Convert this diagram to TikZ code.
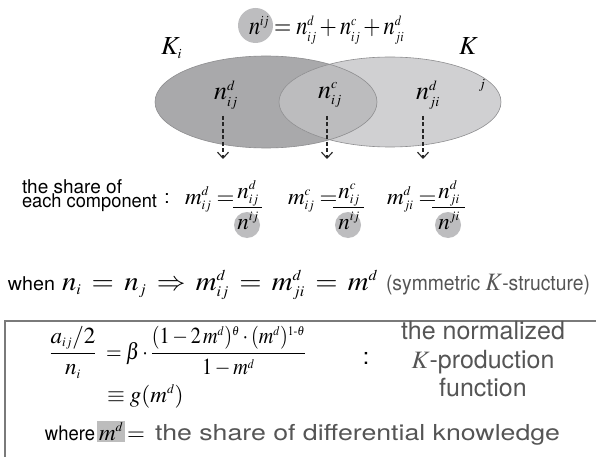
\documentclass[tikz,border=0pt]{standalone}
\usepackage{amsmath}
\usepackage{mathptmx}
\usepackage{graphicx}
\usepackage[no-math]{fontspec}
\setmainfont{TeX Gyre Heros}
\usetikzlibrary{shapes.geometric,arrows.meta}
\DeclareMathSizes{28}{28}{15}{11}
\DeclareMathSizes{27}{27}{15}{11}
\DeclareMathSizes{26}{26}{14}{10}
\DeclareMathSizes{25}{25}{14}{10}
\DeclareMathSizes{24}{24}{13}{9}
\DeclareMathSizes{23}{23}{13}{9}
\DeclareMathSizes{22}{22}{12}{9}
\definecolor{lgray}{HTML}{A9A9AB}
\definecolor{rgray}{HTML}{D0D0D2}
\definecolor{ogray}{HTML}{BCBCBE}
\definecolor{egray}{HTML}{8E8E90}
\definecolor{cgray}{HTML}{BDBDBF}
\definecolor{hgray}{HTML}{BDBDBD}
\definecolor{txtgray}{HTML}{555555}
\definecolor{boxgray}{HTML}{7A7A7A}
\newcommand{\fsz}[1]{\fontsize{#1}{#1}\selectfont}
\newcommand{\fitw}[2]{\resizebox{#1}{\height}{#2}}
\newcommand{\hy}{\mathchar"002D}
\tikzset{
  lab/.style={inner sep=0pt, outer sep=0pt},
  dasharrow/.style={draw=black!85, line width=1.1pt, dash pattern=on 4pt off 2.5pt,
    -{Straight Barb[length=6pt,width=11pt]}},
  shadecircle/.style={circle, fill=cgray, inner sep=0pt},
  boxline/.style={draw=boxgray, line width=1.5pt},
}
\begin{document}
\begin{tikzpicture}[x=1pt,y=-1pt]
\useasboundingbox (0,0) rectangle (596,457);
\fill[white] (0,0) rectangle (596,457);

% top equation
\node[shadecircle, minimum size=35pt] (cij) at (255.5,25.5) {};
\node[lab, anchor=base west] (topeq) at (249,35) {\fitw{155pt}{\fsz{26}$n^{ij} = n_{ij}^{d} + n_{ij}^{c} + n_{ji}^{d}$}};

% ellipses
\node[ellipse, fill=lgray, minimum width=222pt, minimum height=92pt] (Ki) at (266,102) {};
\node[ellipse, fill=rgray, minimum width=222pt, minimum height=90pt] (Kj) at (390,102) {};
\begin{scope}
  \clip (266,102) ellipse [x radius=111pt, y radius=46pt];
  \fill[ogray] (390,102) ellipse [x radius=111pt, y radius=45pt];
\end{scope}
\draw[egray, line width=0.6pt] (266,102) ellipse [x radius=111pt, y radius=46pt];
\draw[egray, line width=0.6pt] (390,102) ellipse [x radius=111pt, y radius=45pt];

\node[lab, anchor=base west] (Kilab) at (161,55) {\fsz{26}$K_{i}$};
\node[lab, anchor=base west] (Kjlab) at (459,55) {\fsz{26}$K$};
\node[lab] (jlab) at (482,85) {\fsz{26}$\scriptstyle j$};

\node[lab] (nd1) at (226,95) {\fsz{26}$n_{ij}^{d}$};
\node[lab] (nc) at (330,95) {\fsz{26}$n_{ij}^{c}$};
\node[lab] (nd2) at (428,95) {\fsz{26}$n_{ji}^{d}$};

\coordinate (a1) at (223,116); \coordinate (b1) at (223,159);
\coordinate (a2) at (327,116); \coordinate (b2) at (327,159);
\coordinate (a3) at (423,116); \coordinate (b3) at (423,159);
\draw[dasharrow] (a1) -- (b1);
\draw[dasharrow] (a2) -- (b2);
\draw[dasharrow] (a3) -- (b3);

% share row
\node[lab, anchor=base west] (share1) at (22,193) {\fsz{19}the share of};
\node[lab, anchor=base west] (share2) at (22,207) {\fitw{135pt}{\fsz{19}each component}};
\node[lab] (col1) at (167,199) {\fsz{19}:};

\node[lab, anchor=base west] (m1) at (185,204) {\fsz{23}$m_{ij}^{d} =$};
\node[lab, anchor=base] (nu1) at (248,198) {\fsz{23}$n_{ij}^{d}$};
\draw[line width=0.8pt] (233,207.5) -- (262,207.5);
\node[shadecircle, minimum size=26pt] (c1) at (247,225) {};
\node[lab, anchor=base] (dn1) at (248,229) {\fsz{23}$n^{ij}$};

\node[lab, anchor=base west] (m2) at (288,204) {\fsz{23}$m_{ij}^{c} =$};
\node[lab, anchor=base] (nu2) at (349,198) {\fsz{23}$n_{ij}^{c}$};
\draw[line width=0.8pt] (333,207.5) -- (364,207.5);
\node[shadecircle, minimum size=26pt] (c2) at (348,225) {};
\node[lab, anchor=base] (dn2) at (349,229) {\fsz{23}$n^{ij}$};

\node[lab, anchor=base west] (m3) at (387,204) {\fsz{23}$m_{ji}^{d} =$};
\node[lab, anchor=base] (nu3) at (449,198) {\fsz{23}$n_{ji}^{d}$};
\draw[line width=0.8pt] (432,207.5) -- (465,207.5);
\node[shadecircle, minimum size=26pt] (c3) at (448,225) {};
\node[lab, anchor=base] (dn3) at (449,229) {\fsz{23}$n^{ji}$};

% when row
\node[lab, anchor=base west] (when) at (8,290) {\fitw{47pt}{\fsz{19}when}};
\node[lab, anchor=base west] (whenm) at (62,290) {\fitw{316pt}{\fsz{27}\thickmuskip=6.5mu$n_i = n_j \Rightarrow m_{ij}^{d} = m_{ji}^{d} = m^{d}$}};
\node[lab, anchor=base west, text=txtgray] (symm) at (386,290) {\fitw{204pt}{\fsz{21}(symmetric {\fsz{25}$K$}-structure)}};

% box
\draw[boxline] (5,457) -- (5,321) -- (596,321);

% formula
\node[lab, anchor=base] (lhs) at (73,359) {\fsz{23}$\displaystyle\frac{a_{ij}/2}{n_i}$};
\node[lab, anchor=base west] (rhs) at (106,359) {\fitw{200pt}{\fsz{23}$\displaystyle=\beta\cdot\frac{(1-2\,m^{d})^{\theta}\cdot(m^{d})^{1\hy\theta}}{1-m^{d}}$}};
\node[lab, anchor=base west] (gm) at (107,402) {\fsz{23}$\equiv g(m^{d})$};
\node[lab] (col2) at (366,358) {\fsz{23}:};
\node[lab, anchor=base, text=txtgray] (nkp1) at (483,339) {\fsz{25}the normalized};
\node[lab, anchor=base, text=txtgray] (nkp2) at (483,368) {\fsz{25}{\fsz{25}$K$}-production};
\node[lab, anchor=base, text=txtgray] (nkp3) at (483,396) {\fsz{25}function};

\node[lab, anchor=base west] (where) at (45,440) {\fitw{50pt}{\fsz{20}where}};
\node[anchor=base west, fill=hgray, inner sep=2pt, outer sep=0pt] (md) at (97,440) {\fsz{23}$m^{d}$};
\node[lab, anchor=base west] (eq3) at (127,440) {\fsz{23}$=$};
\node[lab, anchor=base west, text=txtgray] (sdk) at (155,440) {\fitw{405pt}{\fsz{22}the share of differential knowledge}};
\end{tikzpicture}
\end{document}
